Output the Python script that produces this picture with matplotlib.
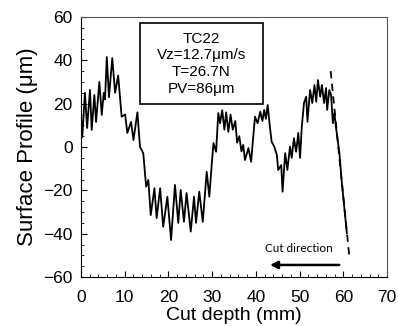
import matplotlib
matplotlib.use("Agg")
import matplotlib.pyplot as plt
from matplotlib.ticker import MultipleLocator
from matplotlib.patches import Rectangle

plt.rcParams['font.family'] = ['Liberation Sans', 'DejaVu Sans']

# measured surface profile (cut depth in mm, height in um)
depth = [0.0, 0.3, 0.9, 1.4, 2.05, 2.45, 3.05, 3.45, 4.2, 4.75, 5.2, 5.5, 5.9, 6.4, 7.15,
         7.8, 8.5, 9.3, 10.1, 10.6, 11.45, 12.0, 12.9, 13.5, 13.9, 14.25, 14.9, 15.4, 15.95,
         16.8, 17.3, 18.1, 18.8, 19.75, 20.6, 21.5, 22.25, 22.8, 23.55, 24.15, 25.1, 25.85,
         26.3, 27.05, 27.85, 28.75, 29.35, 29.9, 30.3, 30.9, 31.4, 31.8, 32.3, 32.8, 33.2,
         33.7, 34.2, 34.7, 35.3, 35.7, 36.2, 36.7, 37.1, 37.5, 38.3, 38.9, 39.8, 40.4, 41.0,
         41.5, 41.9, 42.3, 42.7, 43.2, 43.6, 44.2, 44.8, 45.1, 45.8, 46.1, 46.7, 47.2, 47.8,
         48.2, 48.7, 49.2, 49.7, 50.1, 50.5, 51.0, 51.5, 51.8, 52.4, 52.9, 53.4, 53.8, 54.2,
         54.7, 55.1, 55.6, 56.05, 56.3, 56.8, 57.2, 57.6, 57.95, 58.3, 59.1, 59.6, 60.2, 60.8]
profile = [14.8, 4.6, 25, 8.8, 26.3, 7.9, 24, 11.6, 30, 14.8, 25, 22, 41.5, 23, 41,
           25, 33, 14, 15, 6.5, 11.6, 3.2, 16, 0, -1.4, -3, -18.3, -15.2, -31.4,
           -19, -32.8, -19, -36.8, -22.9, -42.9, -17.5, -35, -19.8, -34.5, -21.2, -39, -22.9,
           -35, -20.6, -34.5, -11.4, -22.9, -8, 1.8, -2.2, 15.7, 11, 17, 8, 16,
           7, 15, 8, 12, 2, 5, -2, 1, -6, -0.5, -6.8, 14, 11, 16.3,
           12, 17.1, 13, 19.4, 9.4, 2.5, 0.2, -3.7, -10.6, -8.3, -20.6, -2.8, -10.6, 0.2,
           -5, 4.1, -2.2, 6.5, -5, 9.4, 20.3, 23.2, 11.7, 26.3, 20.3, 28.6, 20.9, 30.9,
           23.2, 28.6, 20.3, 27.2, 17.1, 26.3, 24, 11, 15.7, 9.4, -2.8, -15.2, -27.5, -39.7]

# dashed edge line
edge_x = [57.1, 61.4]
edge_y = [35, -51]

info = "TC22\nVz=12.7\u03bcm/s\nT=26.7N\nPV=86\u03bcm"

fig = plt.figure(figsize=(3.98, 3.26), dpi=100)
ax = fig.add_axes([0.2035, 0.150, 0.769, 0.798])

ax.plot(depth, profile, color='black', lw=1.3)
ax.plot(edge_x, edge_y, color='black', lw=1.3, linestyle=(0, (4, 3)))

ax.set_xlim(0, 70)
ax.set_ylim(-60, 60)
ax.xaxis.set_major_locator(MultipleLocator(10))
ax.xaxis.set_minor_locator(MultipleLocator(2))
ax.yaxis.set_major_locator(MultipleLocator(20))
ax.yaxis.set_minor_locator(MultipleLocator(5))
ax.tick_params(which='both', direction='in', labelsize=12.5)
ax.tick_params(which='major', length=4)
ax.tick_params(which='minor', length=2.2)
ax.tick_params(axis='x', pad=9)
ax.tick_params(axis='y', pad=6)
for s in ['top', 'right']:
    ax.spines[s].set_color('#555555')

ax.set_xlabel("Cut depth (mm)", fontsize=14, labelpad=2)
ax.set_ylabel("Surface Profile (\u03bcm)", fontsize=16, labelpad=4)

# info box
ax.add_patch(Rectangle((0.193, 0.665), 0.401, 0.313, transform=ax.transAxes,
                       fc='white', ec='black', lw=1.2, zorder=3))
ax.text(0.3935, 0.82, info, transform=ax.transAxes, ha='center', va='center',
        fontsize=11, linespacing=1.25, zorder=4)

ax.annotate("", xy=(42.6, -54.4), xytext=(59.7, -54.4),
            arrowprops=dict(arrowstyle='-|>', color='black', lw=1.8, mutation_scale=11))
ax.text(49.9, -46.6, "Cut direction", ha='center', va='center', fontsize=8.5,
        family=['Lato', 'DejaVu Sans'])

fig.savefig("out.png", dpi=100)
